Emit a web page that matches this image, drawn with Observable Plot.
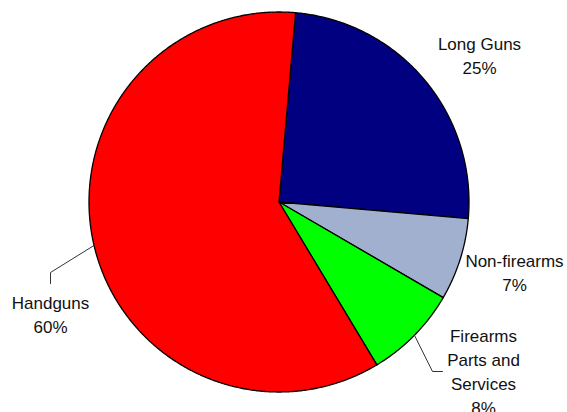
<!DOCTYPE html>
<html><head><meta charset="utf-8">
<script src="https://cdn.jsdelivr.net/npm/d3@7"></script>
<script src="https://cdn.jsdelivr.net/npm/@observablehq/plot@0.6"></script>
<style>html,body{margin:0;padding:0;background:#fff;}</style>
</head><body><div id="chart"></div>
<script>
// ---- data ----
const categories = ["Long Guns", "Non-firearms", "Firearms\nParts and\nServices", "Handguns"];
const shares = [25, 7, 8, 60];
const colors = ["#000080", "#A2B0D0", "#00FF00", "#FF0000"];

// ---- layout (pixels) ----
const W = 567, H = 412, cx = 279, cy = 202, R = 190;
const startAngle = 5; // degrees clockwise from 12 o'clock
const labelAt = { // top-centre of each label block, pixels
  "Long Guns": [479, 33],
  "Non-firearms": [514, 250],
  "Firearms\nParts and\nServices": [483, 325],
  "Handguns": [50, 292]
};
const leaderElbows = { // elbow points after the slice mid-point, pixels
  "Firearms\nParts and\nServices": [[432, 371], [442, 371]],
  "Handguns": [[50, 272], [50, 283]]
};

const toX = px => (px - cx) / R;
const toY = py => (cy - py) / R;

// ---- slices as fans to the centre ----
const total = d3.sum(shares);
const slicePts = [];
const mids = {};
let a0 = startAngle;
shares.forEach((v, i) => {
  const a1 = a0 + v / total * 360;
  const n = Math.max(4, Math.ceil((a1 - a0) / 0.4));
  for (let k = 0; k <= n; k++) {
    const a = (a0 + (a1 - a0) * k / n) * Math.PI / 180;
    slicePts.push({name: categories[i], x: Math.sin(a), y: Math.cos(a)});
  }
  mids[categories[i]] = (a0 + a1) / 2 * Math.PI / 180;
  a0 = a1;
});

const labels = categories.map((c, i) => ({
  text: `${c}\n${shares[i]}%`,
  x: toX(labelAt[c][0]),
  y: toY(labelAt[c][1])
}));

const leaders = [];
Object.entries(leaderElbows).forEach(([c, pts]) => {
  const m = mids[c];
  leaders.push({name: c, x: Math.sin(m), y: Math.cos(m)});
  pts.forEach(p => leaders.push({name: c, x: toX(p[0]), y: toY(p[1])}));
});

const plot = Plot.plot({
  width: W, height: H,
  marginTop: 0, marginRight: 0, marginBottom: 0, marginLeft: 0,
  x: {domain: [toX(0), toX(W)], axis: null},
  y: {domain: [toY(H), toY(0)], axis: null},
  color: {domain: categories, range: colors},
  style: {background: "#fff"},
  marks: [
    Plot.area(slicePts, {x1: "x", y1: "y", x2: 0, y2: 0, z: "name", fill: "name",
      stroke: "#000", strokeWidth: 1.3, strokeLinejoin: "round", curve: "linear"}),
    Plot.line(leaders, {x: "x", y: "y", z: "name", stroke: "#333", strokeWidth: 1, curve: "linear"}),
    Plot.text(labels, {x: "x", y: "y", text: "text", lineAnchor: "top", textAnchor: "middle",
      fontSize: 17, lineHeight: 1.4, fill: "#111",
      fontFamily: "'Liberation Sans', Arial, sans-serif"})
  ]
});
document.getElementById("chart").appendChild(plot);
</script>
</body></html>
